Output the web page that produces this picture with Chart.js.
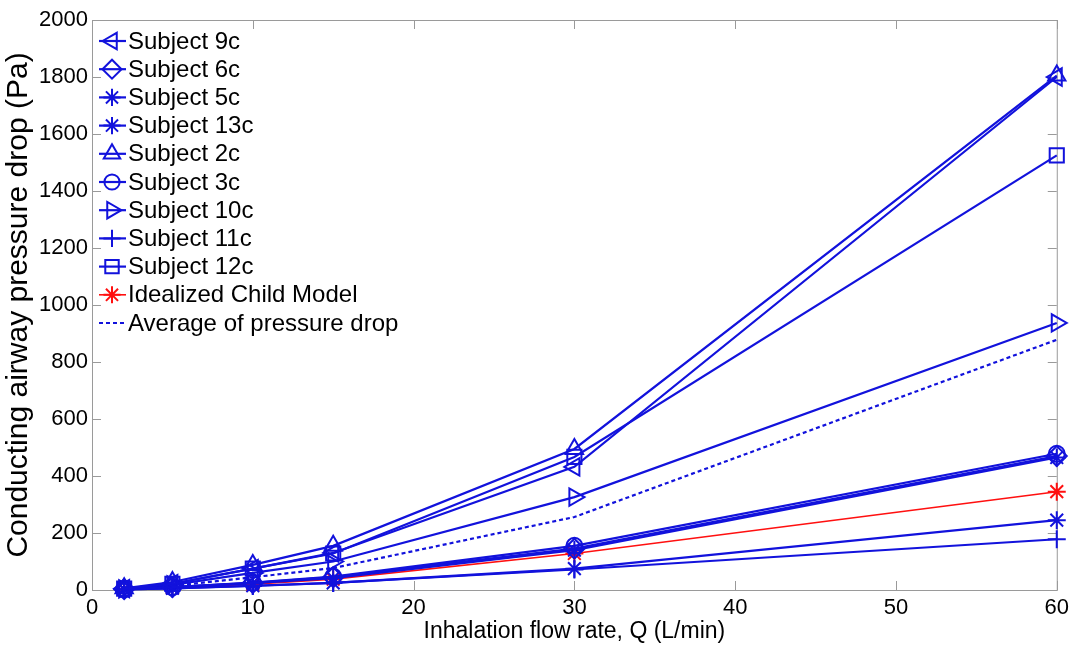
<!DOCTYPE html>
<html>
<head>
<meta charset="utf-8">
<script src="https://cdn.jsdelivr.net/npm/chart.js@4"></script>
<style>
  html, body { margin: 0; padding: 0; background: #fff; }
  #wrap { width: 1074px; height: 645px; }
</style>
</head>
<body>
<div id="wrap"><canvas id="chart" width="1074" height="645"></canvas></div>
<script>
// flow rates (L/min) and pressure drops (Pa)
const flowRates = [2, 5, 10, 15, 30, 60];
const xTicks = [0, 10, 20, 30, 40, 50, 60];
const yTicks = [0, 200, 400, 600, 800, 1000, 1200, 1400, 1600, 1800, 2000];

const subject9c  = [5, 22, 75, 130, 432, 1800];
const subject6c  = [3, 10, 25, 45, 145, 470];
const subject5c  = [3, 9, 24, 42, 140, 465];
const subject13c = [2, 6, 15, 25, 75, 245];
const subject2c  = [6, 28, 88, 155, 495, 1805];
const subject3c  = [3, 10, 26, 47, 155, 478];
const subject10c = [4, 18, 60, 100, 326, 937];
const subject11c = [2, 6, 14, 25, 72, 178];
const subject12c = [5, 22, 75, 128, 467, 1525];
const idealChild = [2, 8, 20, 38, 128, 345];
const averageDrop = [3.7, 14.6, 44.7, 77, 256, 878];

const BLUE = "#1212dc";
const RED = "#ff1010";
const FONT = "'Liberation Sans', Arial, Helvetica, sans-serif";

function pts(values) {
  return flowRates.map((q, i) => ({ x: q, y: values[i] }));
}

function series(label, values, style, color, extra) {
  return Object.assign({
    label: label,
    data: pts(values),
    borderColor: color,
    borderWidth: 2.2,
    pointStyle: style,
    pointRadius: 9,
    pointHoverRadius: 9,
    pointBorderWidth: 2,
    pointBorderColor: color,
    pointBackgroundColor: "rgba(0,0,0,0)",
    backgroundColor: "rgba(0,0,0,0)",
    tension: 0,
    clip: false,
    fill: false
  }, extra || {});
}

const datasets = [
  series("Subject 9c", subject9c, "triangle", BLUE, { pointRotation: -90, pointRadius: 10 }),
  series("Subject 6c", subject6c, "rectRot", BLUE, { pointRadius: 10 }),
  series("Subject 5c", subject5c, "star", BLUE),
  series("Subject 13c", subject13c, "star", BLUE),
  series("Subject 2c", subject2c, "triangle", BLUE, { pointRadius: 10 }),
  series("Subject 3c", subject3c, "circle", BLUE, { pointRadius: 8 }),
  series("Subject 10c", subject10c, "triangle", BLUE, { pointRotation: 90, pointRadius: 10 }),
  series("Subject 11c", subject11c, "cross", BLUE),
  series("Subject 12c", subject12c, "rect", BLUE, { pointRadius: 10 }),
  series("Idealized Child Model", idealChild, "star", RED, { borderWidth: 1.6 }),
  series("Average of pressure drop", averageDrop, "circle", BLUE, { pointRadius: 0, pointHoverRadius: 0, borderDash: [4, 3] })
];

// box around the axes with inward ticks, matlab style
const axesBox = {
  id: "axesBox",
  beforeDatasetsDraw(chart) {
    const ctx = chart.ctx;
    const a = chart.chartArea;
    const xs = chart.scales.x, ys = chart.scales.y;
    const tl = 9;
    ctx.save();
    ctx.strokeStyle = "#9a9a9a";
    ctx.lineWidth = 1;
    ctx.strokeRect(a.left + 0.5, a.top + 0.5, a.right - a.left, a.bottom - a.top);
    ctx.beginPath();
    xTicks.forEach(v => {
      const px = Math.round(xs.getPixelForValue(v)) + 0.5;
      ctx.moveTo(px, a.bottom); ctx.lineTo(px, a.bottom - tl);
      ctx.moveTo(px, a.top); ctx.lineTo(px, a.top + tl);
    });
    yTicks.forEach(v => {
      const py = Math.round(ys.getPixelForValue(v)) + 0.5;
      ctx.moveTo(a.left, py); ctx.lineTo(a.left + tl, py);
      ctx.moveTo(a.right, py); ctx.lineTo(a.right - tl, py);
    });
    ctx.stroke();
    ctx.restore();
  }
};

// legend in the upper left corner: line sample + marker + label
const cornerLegend = {
  id: "cornerLegend",
  afterDraw(chart) {
    const ctx = chart.ctx;
    const x0 = 99, x1 = 126, mx = 112, tx = 128;
    chart.data.datasets.forEach((ds, i) => {
      const y = 41 + i * 28.2;
      ctx.save();
      ctx.strokeStyle = ds.borderColor;
      ctx.lineWidth = ds.borderWidth;
      ctx.setLineDash(ds.borderDash || []);
      ctx.beginPath();
      ctx.moveTo(x0, y);
      ctx.lineTo(x1, y);
      ctx.stroke();
      ctx.setLineDash([]);
      if (ds.pointRadius > 0) {
        ctx.fillStyle = "rgba(0,0,0,0)";
        ctx.lineWidth = ds.pointBorderWidth;
        Chart.helpers.drawPoint(ctx, {
          pointStyle: ds.pointStyle,
          rotation: ds.pointRotation || 0,
          radius: ds.pointRadius * 0.95,
          borderWidth: ds.pointBorderWidth
        }, mx, y);
      }
      ctx.fillStyle = "#000";
      ctx.font = "24px " + FONT;
      ctx.textAlign = "left";
      ctx.textBaseline = "middle";
      ctx.fillText(ds.label, tx, y + 1);
      ctx.restore();
    });
  }
};

new Chart(document.getElementById("chart"), {
  type: "line",
  data: { datasets: datasets },
  plugins: [axesBox, cornerLegend],
  options: {
    responsive: false,
    animation: false,
    layout: { padding: { top: 20, right: 10, left: 0, bottom: 0 }, autoPadding: false },
    plugins: { legend: { display: false }, tooltip: { enabled: false } },
    scales: {
      x: {
        type: "linear",
        min: 0,
        max: 60,
        afterFit(scale) { scale.height = 55; },
        afterBuildTicks(scale) { scale.ticks = xTicks.map(v => ({ value: v })); },
        grid: { display: false, drawTicks: false },
        border: { display: false },
        ticks: { color: "#000", font: { family: FONT, size: 22 }, padding: 5, maxRotation: 0, callback: v => String(v) },
        title: {
          display: true,
          text: "Inhalation flow rate, Q (L/min)",
          color: "#000",
          font: { family: FONT, size: 23 },
          padding: { top: 0, bottom: 0 }
        }
      },
      y: {
        type: "linear",
        min: 0,
        max: 2000,
        afterFit(scale) { scale.width = 92; },
        afterBuildTicks(scale) { scale.ticks = yTicks.map(v => ({ value: v })); },
        grid: { display: false, drawTicks: false },
        border: { display: false },
        ticks: { color: "#000", font: { family: FONT, size: 22 }, padding: 4, callback: v => String(v) },
        title: {
          display: true,
          text: "Conducting airway pressure drop (Pa)",
          color: "#000",
          font: { family: FONT, size: 30 },
          padding: { top: 1, bottom: 0 }
        }
      }
    }
  }
});
</script>
</body>
</html>
